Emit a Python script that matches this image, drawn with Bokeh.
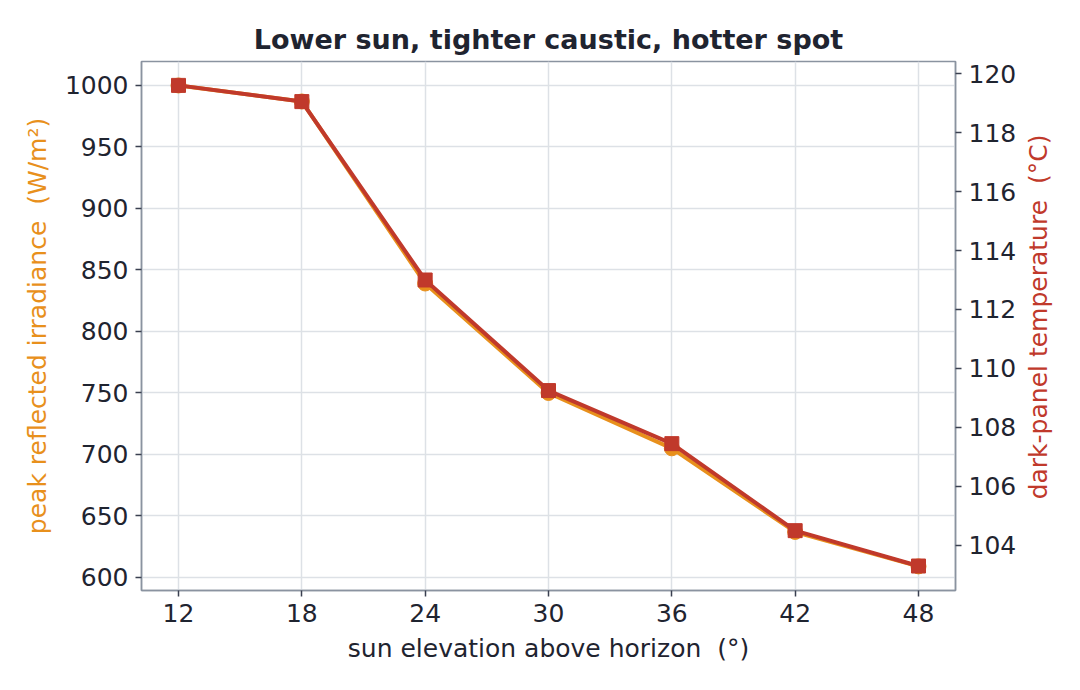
import math
from bokeh.plotting import figure
from bokeh.models import Range1d, LinearAxis, FixedTicker
from bokeh.layouts import row
from bokeh.core.properties import value
from bokeh.embed import file_html
from bokeh.resources import INLINE

elevation = [12, 18, 24, 30, 36, 42, 48]
irradiance = [1000, 987, 839, 750, 705, 637, 609]
temperature = [119.6, 119.05, 113.0, 109.25, 107.45, 104.5, 103.3]
x_ticks = [12, 18, 24, 30, 36, 42, 48]
irr_ticks = [600, 650, 700, 750, 800, 850, 900, 950, 1000]
temp_ticks = [104, 106, 108, 110, 112, 114, 116, 118, 120]
right_title = "dark-panel temperature \u00a0(°C)"

ORANGE = "#e8901c"
RED = "#c0392b"
DARK = "#1f2430"
FRAME = "#8a93a0"
GRID = "#dde1e6"
FONT = "DejaVu Sans"
SP2 = " \u00a0"

H = 674
p = figure(width=1019, height=H, output_backend="svg", toolbar_location=None,
           x_range=Range1d(10.2, 49.8), y_range=Range1d(589.4, 1019.5),
           min_border_left=141, min_border_right=64, min_border_top=61, min_border_bottom=84)
p.extra_y_ranges = {"temp": Range1d(102.47, 120.41)}

p.title.text = "Lower sun, tighter caustic, hotter spot"
p.title.align = "center"
p.title.text_font = FONT
p.title.text_font_size = "27px"
p.title.text_font_style = "bold"
p.title.text_color = DARK
p.title.standoff = 14

p.outline_line_color = FRAME
p.outline_line_width = 1.5
p.background_fill_color = "white"
p.border_fill_color = "white"

p.xgrid.grid_line_color = GRID
p.ygrid.grid_line_color = GRID
p.xgrid.grid_line_width = 1.5
p.ygrid.grid_line_width = 1.5
p.xgrid.ticker = FixedTicker(ticks=x_ticks)
p.ygrid.ticker = FixedTicker(ticks=irr_ticks)

p.xaxis.ticker = FixedTicker(ticks=x_ticks)
p.yaxis.ticker = FixedTicker(ticks=irr_ticks)
p.xaxis.axis_label = "sun elevation above horizon" + SP2 + "(°)"
p.yaxis.axis_label = "peak reflected irradiance" + SP2 + "(W/m²)"

right = LinearAxis(y_range_name="temp", ticker=FixedTicker(ticks=temp_ticks))
p.add_layout(right, "right")

for ax in [p.xaxis[0], p.yaxis[0], right]:
    ax.axis_line_color = FRAME
    ax.axis_line_width = 1.5
    ax.major_tick_line_color = "#3a4050"
    ax.major_tick_line_width = 1.5
    ax.major_tick_in = 0
    ax.major_tick_out = 6
    ax.minor_tick_line_color = None
    ax.major_label_text_font = FONT
    ax.major_label_text_font_size = "25px"
    ax.major_label_text_color = DARK
    ax.major_label_standoff = 7
    ax.axis_label_text_font = FONT
    ax.axis_label_text_font_size = "25px"
    ax.axis_label_text_font_style = "normal"
    ax.axis_label_standoff = 10

p.xaxis.axis_label_standoff = 9
p.xaxis.axis_label_text_color = DARK
p.yaxis.axis_label_text_color = ORANGE

p.line(elevation, irradiance, line_color=ORANGE, line_width=4)
p.scatter(elevation, irradiance, marker="circle", size=15, fill_color=ORANGE, line_color=ORANGE)
p.line(elevation, temperature, y_range_name="temp", line_color=RED, line_width=4)
p.scatter(elevation, temperature, y_range_name="temp", marker="square", size=14,
          fill_color=RED, line_color=RED)

# narrow strip holding the right-hand axis title (reads bottom-to-top)
W2 = 45
q = figure(width=W2, height=H, output_backend="svg", toolbar_location=None,
           x_range=Range1d(0, W2), y_range=Range1d(0, H),
           x_axis_location=None, y_axis_location=None,
           min_border_left=0, min_border_right=0, min_border_top=0, min_border_bottom=0)
q.outline_line_color = None
q.xgrid.visible = False
q.ygrid.visible = False
q.background_fill_color = "white"
q.border_fill_color = "white"
q.text(x=[19], y=[H - (61 + 590) / 2], text=[right_title], angle=math.pi / 2,
       text_align="center", text_baseline="middle",
       text_font=value(FONT), text_font_size="25px", text_color=RED)

open("out.html", "w").write(file_html(row(p, q), INLINE))
